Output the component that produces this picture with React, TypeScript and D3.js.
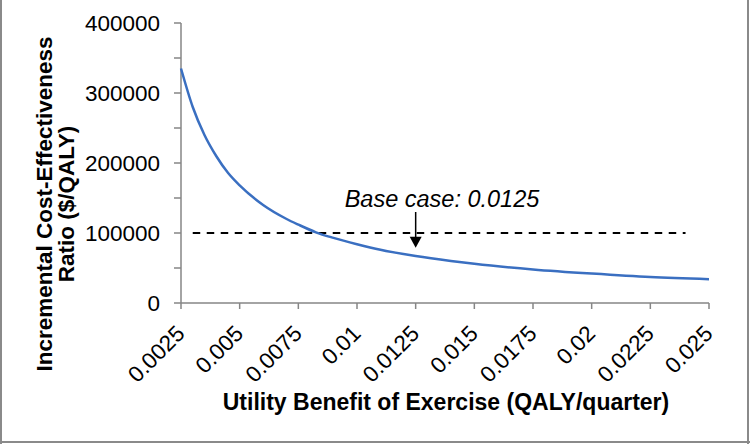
import * as d3 from 'd3';
import React from 'react';

// values
const utility = [
  0.0025, 0.003, 0.0035, 0.004, 0.0045, 0.005, 0.006, 0.007, 0.0075, 0.00825, 0.009, 0.01, 0.011,
  0.0125, 0.014, 0.015, 0.0175, 0.02, 0.0225, 0.025,
];
const icer = [
  335000, 280000, 240000, 210000, 186000, 168000, 140000, 120000, 112000, 101000, 93000, 84000, 76000,
  67000, 60000, 56000, 48000, 42000, 37000, 34000,
];

const xTicks = [0.0025, 0.005, 0.0075, 0.01, 0.0125, 0.015, 0.0175, 0.02, 0.0225, 0.025];
const xTickLabels = ['0.0025', '0.005', '0.0075', '0.01', '0.0125', '0.015', '0.0175', '0.02', '0.0225', '0.025'];
const yTicks = [0, 50000, 100000, 150000, 200000, 250000, 300000, 350000, 400000];
const yLabelTicks = [0, 100000, 200000, 300000, 400000];

// threshold line and base-case annotation
const thresholdX = [0.003, 0.024];
const thresholdY = 100000;
const baseCase = 0.0125;
const arrowY = [130000, 79000];
const annotationText = 'Base case: 0.0125';

const W = 750;
const H = 444;
const FONT = '"Liberation Sans", Arial, sans-serif';
const AXIS = '#868686';

const App: React.FC = () => {
  const x = d3.scaleLinear().domain([0.0025, 0.025]).range([181, 709]);
  const y = d3.scaleLinear().domain([0, 400000]).range([303, 23]);

  const points = utility.map((u, i) => [u, icer[i]] as [number, number]);
  const line = d3
    .line<[number, number]>()
    .x((d) => x(d[0]))
    .y((d) => y(d[1]))
    .curve(d3.curveMonotoneX);

  const ax = x(baseCase);
  const tipY = y(arrowY[1]);

  return (
    <div style={{ position: 'fixed', left: 0, top: 0 }}>
      <svg width={W} height={H} style={{ display: 'block', background: '#fff' }} fontFamily={FONT}>
        {/* frame */}
        <line x1={1} x2={1} y1={0} y2={H} stroke="#8a8a8a" strokeWidth={2} />
        <line x1={748} x2={748} y1={0} y2={H} stroke="#8a8a8a" strokeWidth={2} />
        <line x1={0} x2={W} y1={442} y2={442} stroke="#8a8a8a" strokeWidth={2} />

        {/* y axis */}
        <line x1={x(0.0025)} x2={x(0.0025)} y1={y(0)} y2={y(400000)} stroke={AXIS} strokeWidth={1.5} />
        {yTicks.map((t) => (
          <line key={t} x1={x(0.0025) - 7} x2={x(0.0025)} y1={y(t)} y2={y(t)} stroke={AXIS} strokeWidth={1.5} />
        ))}
        {yLabelTicks.map((t) => (
          <text key={t} x={160} y={y(t) + 8} textAnchor="end" fontSize={22.5} fill="#000">
            {t}
          </text>
        ))}

        {/* x axis */}
        <line x1={x(0.0025)} x2={x(0.025)} y1={y(0)} y2={y(0)} stroke={AXIS} strokeWidth={1.5} />
        {xTicks.map((t) => (
          <line key={t} x1={x(t)} x2={x(t)} y1={y(0)} y2={y(0) + 6} stroke={AXIS} strokeWidth={1.5} />
        ))}
        {xTicks.map((t, i) => (
          <text
            key={t}
            transform={`translate(${x(t) + 5},${335}) rotate(-45)`}
            textAnchor="end"
            fontSize={22.5}
            fill="#000"
          >
            {xTickLabels[i]}
          </text>
        ))}

        {/* dashed threshold */}
        <line
          x1={x(thresholdX[0])}
          x2={x(thresholdX[1])}
          y1={y(thresholdY)}
          y2={y(thresholdY)}
          stroke="#000"
          strokeWidth={2}
          strokeDasharray="7.5 6.5"
        />

        {/* ICER curve */}
        <path d={line(points) ?? ''} fill="none" stroke="#3a6fc1" strokeWidth={2.5} />

        {/* annotation */}
        <text x={442} y={207} textAnchor="middle" fontSize={23.5} fontStyle="italic" fill="#000">
          {annotationText}
        </text>
        <line x1={ax} x2={ax} y1={y(arrowY[0])} y2={tipY - 8} stroke="#000" strokeWidth={1.5} />
        <path d={`M${ax - 6},${tipY - 11} L${ax + 6},${tipY - 11} L${ax},${tipY} Z`} fill="#000" />

        {/* axis titles */}
        <text x={446} y={410} textAnchor="middle" fontSize={23} fontWeight="bold" fill="#000">
          Utility Benefit of Exercise (QALY/quarter)
        </text>
        <text transform="translate(52,204) rotate(-90)" textAnchor="middle" fontSize={22.5} fontWeight="bold" fill="#000">
          Incremental Cost-Effectiveness
        </text>
        <text transform="translate(74,204) rotate(-90)" textAnchor="middle" fontSize={22.5} fontWeight="bold" fill="#000">
          Ratio ($/QALY)
        </text>
      </svg>
    </div>
  );
};

export default App;
